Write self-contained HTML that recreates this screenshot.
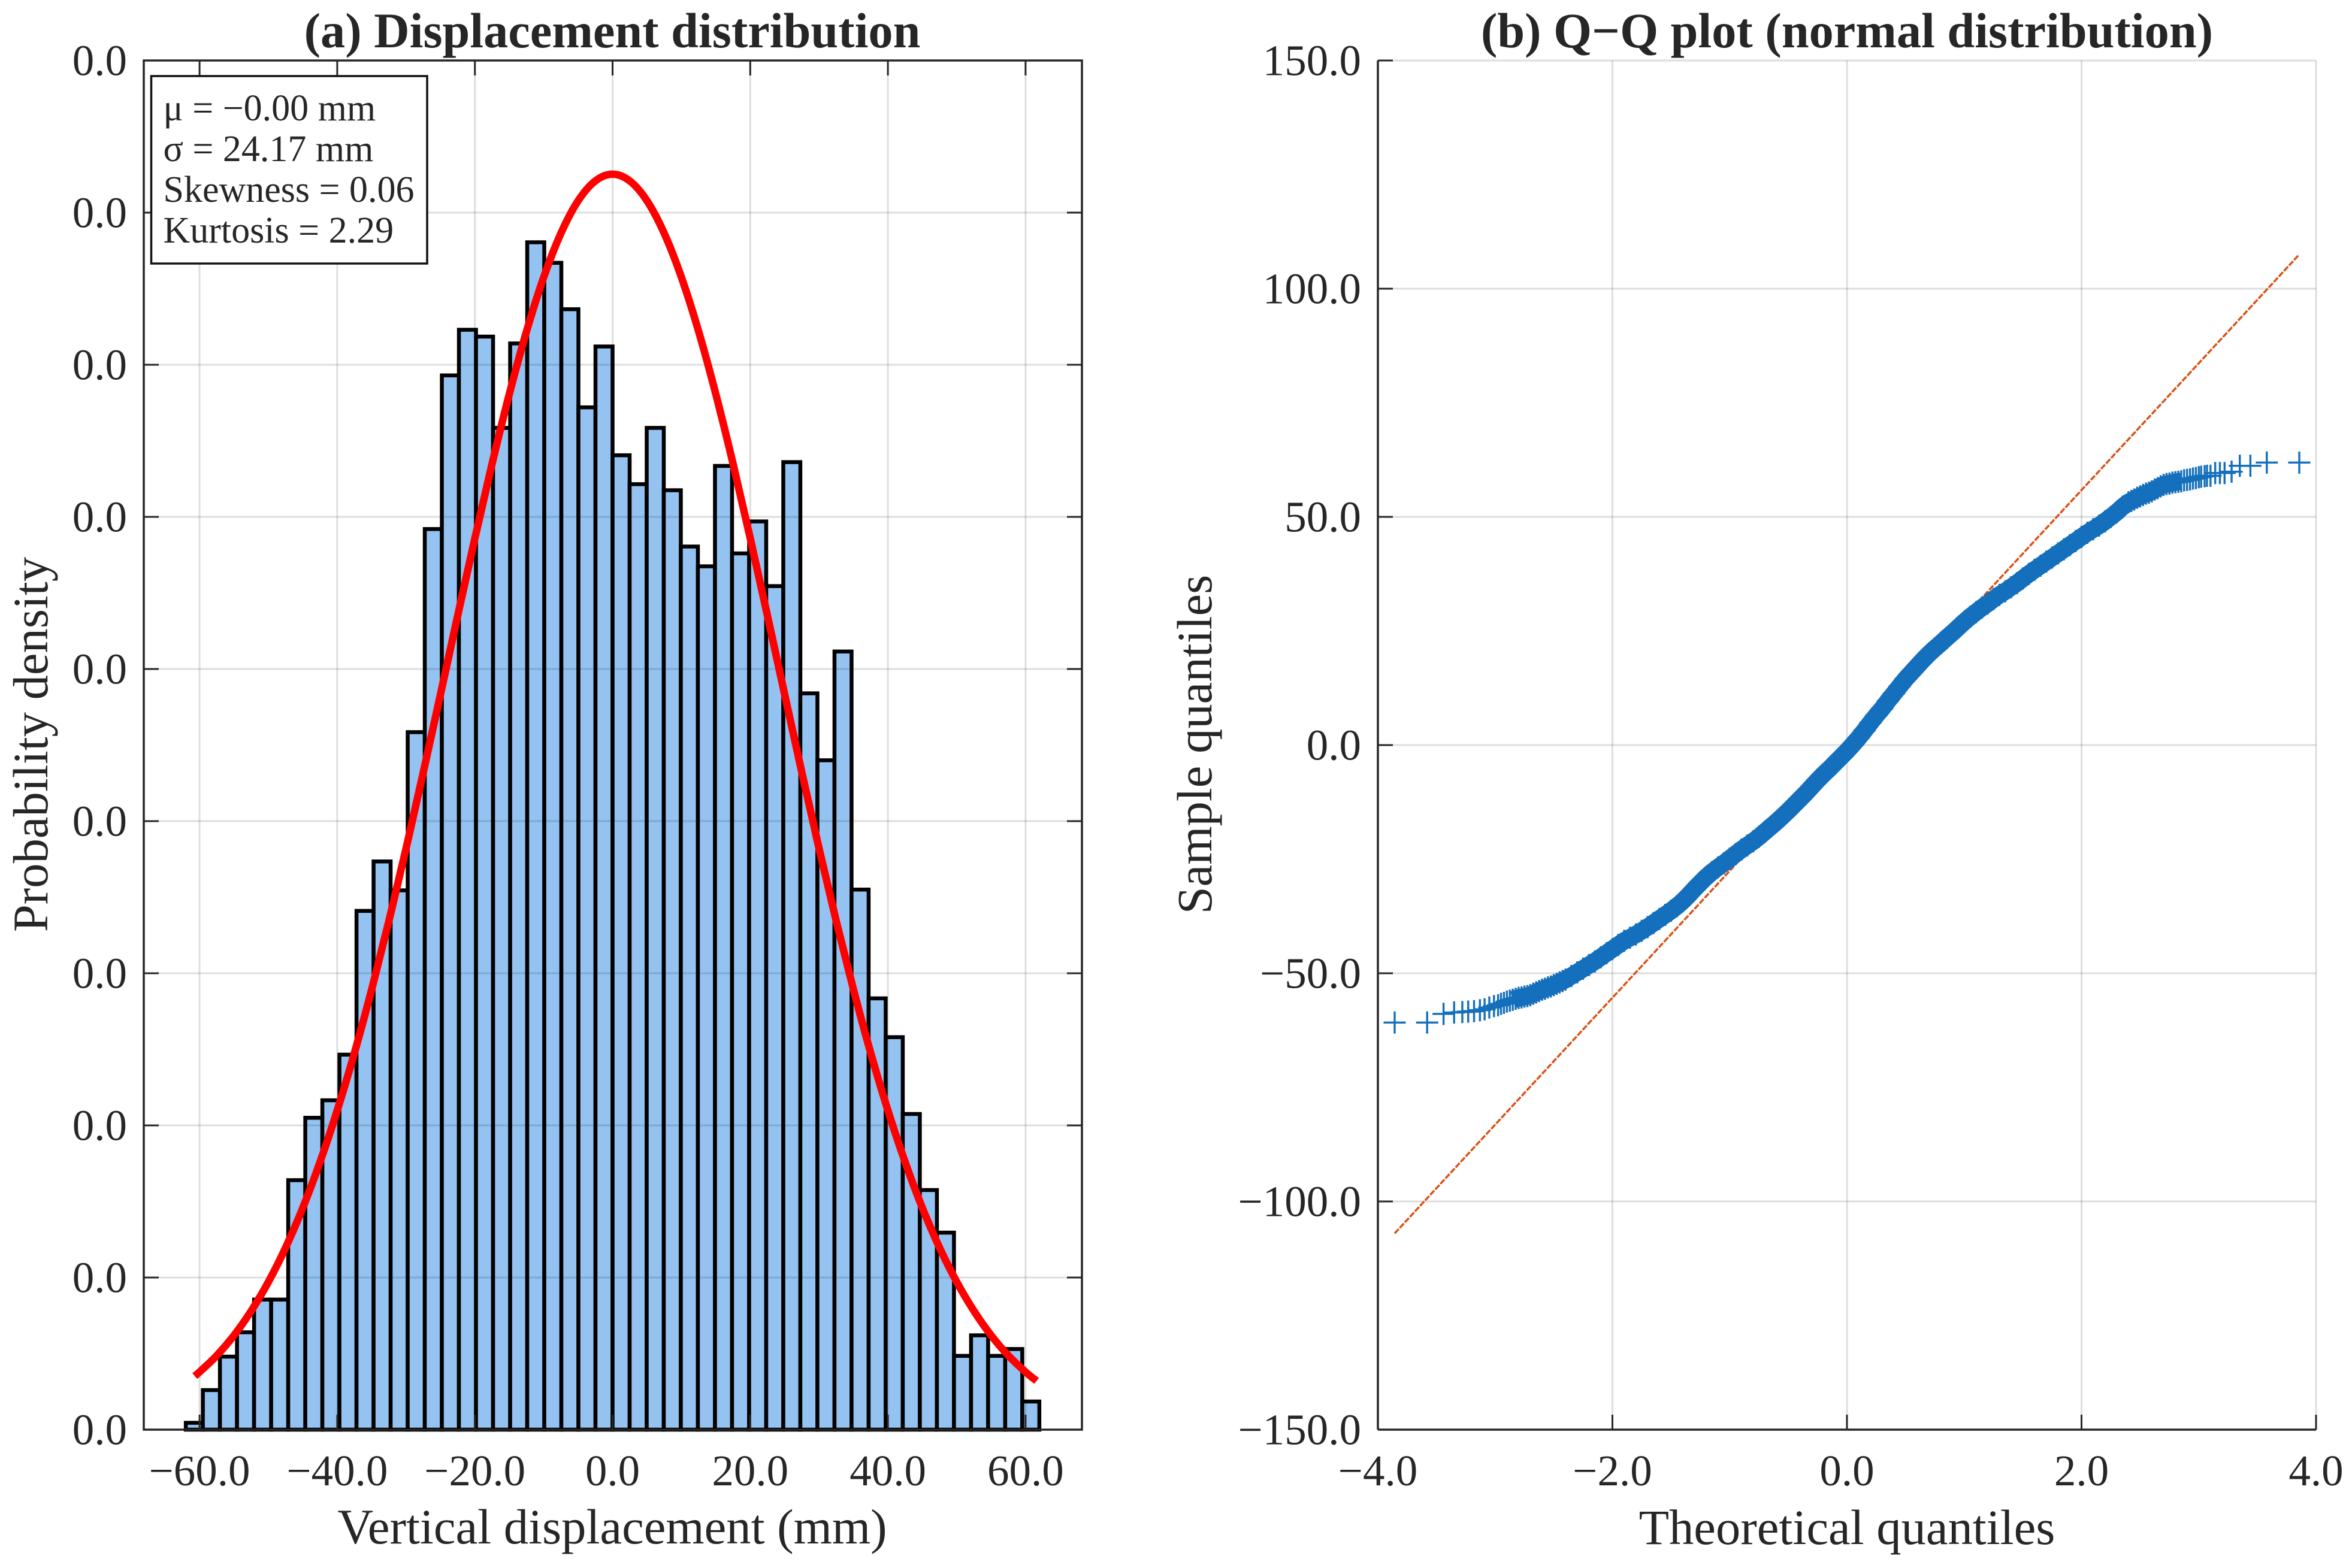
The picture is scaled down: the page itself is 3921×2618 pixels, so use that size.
<!DOCTYPE html>
<html lang="en">
<head>
<meta charset="utf-8">
<title>Displacement distribution and Q-Q plot</title>
<style>
  html, body { margin: 0; padding: 0; background: #ffffff; }
  #figure { display: block; width: 3921px; height: 2618px; }
  text { font-family: "Liberation Serif", "DejaVu Serif", serif; fill: #262626; }
</style>
</head>
<body>
<svg id="figure" xmlns="http://www.w3.org/2000/svg" width="3921" height="2618" viewBox="0 0 3921 2618">
  <rect x="0" y="0" width="3921" height="2618" fill="#ffffff"/>
  <g id="panel-a"></g>
  <g id="panel-b"></g>

  <text x="1022" y="79" font-size="82.3" font-weight="700" text-anchor="middle">(a) Displacement distribution</text>
  <text x="1022" y="2577" font-size="82.6" text-anchor="middle">Vertical displacement (mm)</text>
  <text transform="translate(79 1243) rotate(-90)" font-size="82.6" text-anchor="middle">Probability density</text>

  <text x="3083" y="79" font-size="82.3" font-weight="700" text-anchor="middle">(b) Q−Q plot (normal distribution)</text>
  <text x="3083" y="2578" font-size="82.6" text-anchor="middle">Theoretical quantiles</text>
  <text transform="translate(2022 1243) rotate(-90)" font-size="82.6" text-anchor="middle">Sample quantiles</text>

  <g>
    <rect x="252.5" y="127" width="460.5" height="313" fill="#ffffff" stroke="#111111" stroke-width="3.5"/>
    <text x="272.5" y="201" font-size="62">μ = −0.00 mm</text>
    <text x="272.5" y="269" font-size="62">σ = 24.17 mm</text>
    <text x="272.5" y="337" font-size="62">Skewness = 0.06</text>
    <text x="272.5" y="405" font-size="62">Kurtosis = 2.29</text>
  </g>
</svg>

<script>
// ---------- Panel (a) data ----------
const histXTicks = [-60, -40, -20, 0, 20, 40, 60];
const histYTicks = [0, 0.002, 0.004, 0.006, 0.008, 0.010, 0.012, 0.014, 0.016, 0.018];
const histBinStart = -62;
const histBinWidth = 2.48;
const histDensity = [
  0.00009, 0.00052, 0.00096, 0.00128, 0.00171, 0.00171, 0.00328, 0.00410, 0.00433, 0.00493,
  0.00682, 0.00747, 0.00709, 0.00917, 0.01184, 0.01386, 0.01446, 0.01437, 0.01317, 0.01428,
  0.01561, 0.01534, 0.01473, 0.01344, 0.01424, 0.01281, 0.01243, 0.01317, 0.01235, 0.01161,
  0.01135, 0.01267, 0.01152, 0.01194, 0.01109, 0.01272, 0.00968, 0.00880, 0.01023, 0.00710,
  0.00567, 0.00516, 0.00415, 0.00315, 0.00259, 0.00097, 0.00124, 0.00097, 0.00106, 0.00037
];
const fitX = [-60.7, -60, -57.5, -55, -52.5, -50, -47.5, -45, -42.5, -40, -37.5, -35, -32.5, -30, -27.5, -25, -22.5, -20, -17.5, -15, -12.5, -10, -7.5, -5, -2.5, 0, 2.5, 5, 7.5, 10, 12.5, 15, 17.5, 20, 22.5, 25, 27.5, 30, 32.5, 35, 37.5, 40, 42.5, 45, 47.5, 50, 52.5, 55, 57.5, 60, 61.6];
const fitDensity = [0.000705, 0.000758, 0.000974, 0.001239, 0.001560, 0.001942, 0.002393, 0.002917, 0.003518, 0.004197, 0.004953, 0.005785, 0.006684, 0.007640, 0.008640, 0.009667, 0.010701, 0.011720, 0.012700, 0.013614, 0.014439, 0.015151, 0.015729, 0.016156, 0.016417, 0.016505, 0.016417, 0.016156, 0.015729, 0.015151, 0.014439, 0.013614, 0.012700, 0.011720, 0.010701, 0.009667, 0.008640, 0.007640, 0.006684, 0.005785, 0.004953, 0.004197, 0.003518, 0.002917, 0.002393, 0.001942, 0.001560, 0.001239, 0.000974, 0.000758, 0.000641];

// ---------- Panel (b) data ----------
const qqXTicks = [-4, -2, 0, 2, 4];
const qqYTicks = [-150, -100, -50, 0, 50, 100, 150];
const refLineX = [-3.857, 3.857];
const refLineY = [-107, 107.5];
const qqTheoretical = [
  -3.857, -3.58, -3.44, -3.35, -3.28, -3.23, -3.18, -3.13, -3.09, -3.05, -3.01,
  -2.975, -2.95, -2.925, -2.9, -2.875, -2.85, -2.825, -2.8, -2.775, -2.75, -2.725, -2.7, -2.675, -2.65, -2.625, -2.6, -2.575, -2.55, -2.525, -2.5, -2.475, -2.45, -2.425,
  -2.40, -2.35, -2.30, -2.25, -2.20, -2.15, -2.10, -2.05, -2.00, -1.95, -1.90, -1.85, -1.80, -1.75, -1.70, -1.65, -1.60, -1.55, -1.50, -1.45, -1.40, -1.35, -1.30, -1.25, -1.20, -1.15, -1.10, -1.05, -1.00, -0.95, -0.90, -0.85, -0.80, -0.75, -0.70, -0.65, -0.60, -0.55, -0.50, -0.45, -0.40, -0.35, -0.30, -0.25, -0.20, -0.15, -0.10, -0.05,
  0, 0.05, 0.10, 0.15, 0.20, 0.25, 0.30, 0.35, 0.40, 0.45, 0.50, 0.55, 0.60, 0.65, 0.70, 0.75, 0.80, 0.85, 0.90, 0.95, 1.00, 1.05, 1.10, 1.15, 1.20, 1.25, 1.30, 1.35, 1.40, 1.45, 1.50, 1.55, 1.60, 1.65, 1.70, 1.75, 1.80, 1.85, 1.90, 1.95, 2.00, 2.05, 2.10, 2.15, 2.20, 2.25, 2.30, 2.35, 2.40,
  2.425, 2.45, 2.475, 2.5, 2.525, 2.55, 2.575, 2.6, 2.625, 2.65, 2.675, 2.7, 2.725, 2.75, 2.775, 2.8, 2.825, 2.85, 2.875, 2.9, 2.925, 2.95, 2.975, 3.0,
  3.02, 3.05, 3.07, 3.10, 3.14, 3.18, 3.22, 3.28, 3.35, 3.44, 3.58, 3.857
];
const qqSample = [
  -60.8, -60.8, -58.9, -58.6, -58.5, -58.4, -58.3, -58.1, -57.9, -57.5, -57.2,
  -57, -56.7, -56.5, -56.2, -56, -55.8, -55.6, -55.4, -55.3, -55.1, -55, -54.8, -54.5, -54.2, -53.9, -53.6, -53.4, -53.1, -52.9, -52.6, -52.3, -52, -51.7,
  -51.4, -50.6, -49.8, -49, -48.2, -47.4, -46.5, -45.6, -44.7, -43.8, -42.9, -42.2, -41.5, -40.7, -39.9, -39, -38.1, -37.2, -36.3, -35.3, -34.2, -32.9, -31.5, -30.2, -28.9, -27.8, -26.8, -25.9, -24.9, -23.9, -22.9, -22, -21.1, -20.1, -19, -17.9, -16.8, -15.6, -14.4, -13.1, -11.8, -10.5, -9.1, -7.7, -6.4, -5.2, -3.9, -2.6,
  -1.3, 0.1, 1.6, 3.2, 4.9, 6.5, 8, 9.7, 11.3, 12.9, 14.5, 15.9, 17.3, 18.7, 20, 21.2, 22.3, 23.5, 24.6, 25.8, 27, 28.1, 29.1, 30.1, 31, 32, 32.9, 33.7, 34.6, 35.5, 36.5, 37.5, 38.4, 39.3, 40.2, 41.1, 42, 42.9, 43.8, 44.7, 45.6, 46.5, 47.3, 48.1, 49, 50, 51, 52.2, 53.2,
  53.5, 53.8, 54.2, 54.5, 54.8, 55.1, 55.3, 55.6, 56, 56.3, 56.7, 57, 57.2, 57.3, 57.5, 57.6, 57.7, 57.8, 58, 58.1, 58.2, 58.4, 58.5, 58.7,
  58.8, 58.9, 59, 59, 59.6, 59.6, 59.6, 59.9, 61.2, 61.2, 61.9, 61.9
];

// ---------- Layout and axis functions ----------
const plotTop = 101;
const plotBottom = 2387;
const aLeft = 240, aRight = 1806;
const bLeft = 2300, bRight = 3866;
const tickLen = 25;
const SVG_NS = 'http://www.w3.org/2000/svg';

const xScaleA = v => 1022.5 + v * 11.49;
const yScaleA = v => plotBottom - (v / 0.018) * (plotBottom - plotTop);
const xScaleB = v => bLeft + ((v + 4) / 8) * (bRight - bLeft);
const yScaleB = v => plotBottom - ((v + 150) / 300) * (plotBottom - plotTop);
const minusSign = s => s.replace('-', '\u2212');

function make(parent, tag, attrs, text) {
  const el = document.createElementNS(SVG_NS, tag);
  for (const k in attrs) el.setAttribute(k, attrs[k]);
  if (text !== undefined) el.textContent = text;
  parent.appendChild(el);
  return el;
}

function smoothPath(pts) {
  let d = 'M' + pts[0][0].toFixed(2) + ' ' + pts[0][1].toFixed(2);
  for (let i = 0; i < pts.length - 1; i++) {
    const p0 = pts[Math.max(i - 1, 0)], p1 = pts[i], p2 = pts[i + 1], p3 = pts[Math.min(i + 2, pts.length - 1)];
    const c1x = p1[0] + (p2[0] - p0[0]) / 6, c1y = p1[1] + (p2[1] - p0[1]) / 6;
    const c2x = p2[0] - (p3[0] - p1[0]) / 6, c2y = p2[1] - (p3[1] - p1[1]) / 6;
    d += 'C' + c1x.toFixed(2) + ' ' + c1y.toFixed(2) + ' ' + c2x.toFixed(2) + ' ' + c2y.toFixed(2) + ' ' + p2[0].toFixed(2) + ' ' + p2[1].toFixed(2);
  }
  return d;
}

const gridStyle = { stroke: '#000000', 'stroke-opacity': 0.13, 'stroke-width': 3, fill: 'none' };
const axisStyle = { stroke: '#262626', 'stroke-width': 3.5, fill: 'none' };

// ---------- Panel (a) ----------
const panelA = document.getElementById('panel-a');

histDensity.forEach((d, i) => {
  const x0 = xScaleA(histBinStart + i * histBinWidth);
  const x1 = xScaleA(histBinStart + (i + 1) * histBinWidth);
  const bar = make(panelA, 'rect', { x: x0, y: yScaleA(d), width: x1 - x0, height: yScaleA(0) - yScaleA(d), fill: '#94c2f1', stroke: '#000000', 'stroke-width': 6.5 });
  
  
});

histXTicks.forEach(v => {
  const x = xScaleA(v);
  const grid = make(panelA, 'line', Object.assign({ x1: x, x2: x, y1: plotTop, y2: plotBottom }, gridStyle));
  
  
});
histYTicks.forEach(v => {
  const y = yScaleA(v);
  const grid = make(panelA, 'line', Object.assign({ x1: aLeft, x2: aRight, y1: y, y2: y }, gridStyle));
  
  
});

const boxA = make(panelA, 'rect', Object.assign({ x: aLeft, y: plotTop, width: aRight - aLeft, height: plotBottom - plotTop }, axisStyle));



histXTicks.forEach(v => {
  const x = xScaleA(v);
  const tickBottom = make(panelA, 'line', Object.assign({ x1: x, x2: x, y1: plotBottom, y2: plotBottom - tickLen }, axisStyle, { 'stroke-width': 3 }));
  
  
  const tickTop = make(panelA, 'line', Object.assign({ x1: x, x2: x, y1: plotTop, y2: plotTop + tickLen }, axisStyle, { 'stroke-width': 3 }));
  
  
  const label = make(panelA, 'text', { x: x, y: 2480, 'font-size': 73, 'text-anchor': 'middle' }, minusSign(v.toFixed(1)));
  
  
});
histYTicks.forEach(v => {
  const y = yScaleA(v);
  const tickLeft = make(panelA, 'line', Object.assign({ x1: aLeft, x2: aLeft + tickLen, y1: y, y2: y }, axisStyle, { 'stroke-width': 3 }));
  
  
  const tickRight = make(panelA, 'line', Object.assign({ x1: aRight, x2: aRight - tickLen, y1: y, y2: y }, axisStyle, { 'stroke-width': 3 }));
  
  
  const label = make(panelA, 'text', { x: 212, y: y + 24.5, 'font-size': 73, 'text-anchor': 'end' }, v.toFixed(1));
  
  
});

const fitPts = fitX.map((x, i) => [xScaleA(x), yScaleA(fitDensity[i])]);
const fitCurve = make(panelA, 'path', { d: smoothPath(fitPts), fill: 'none', stroke: '#ff0000', 'stroke-width': 12.5, 'stroke-linejoin': 'round' });



// ---------- Panel (b) ----------
const panelB = document.getElementById('panel-b');

qqXTicks.forEach(v => {
  const x = xScaleB(v);
  const grid = make(panelB, 'line', Object.assign({ x1: x, x2: x, y1: plotTop, y2: plotBottom }, gridStyle));
  
  
});
qqYTicks.forEach(v => {
  const y = yScaleB(v);
  const grid = make(panelB, 'line', Object.assign({ x1: bLeft, x2: bRight, y1: y, y2: y }, gridStyle));
  
  
});

const axisLeftB = make(panelB, 'line', Object.assign({ x1: bLeft, x2: bLeft, y1: plotTop, y2: plotBottom }, axisStyle));


const axisBottomB = make(panelB, 'line', Object.assign({ x1: bLeft, x2: bRight, y1: plotBottom, y2: plotBottom }, axisStyle));



qqXTicks.forEach(v => {
  const x = xScaleB(v);
  const tick = make(panelB, 'line', Object.assign({ x1: x, x2: x, y1: plotBottom, y2: plotBottom - tickLen }, axisStyle, { 'stroke-width': 3 }));
  
  
  const label = make(panelB, 'text', { x: x, y: 2480, 'font-size': 73, 'text-anchor': 'middle' }, minusSign(v.toFixed(1)));
  
  
});
qqYTicks.forEach(v => {
  const y = yScaleB(v);
  const tick = make(panelB, 'line', Object.assign({ x1: bLeft, x2: bLeft + tickLen, y1: y, y2: y }, axisStyle, { 'stroke-width': 3 }));
  
  
  const label = make(panelB, 'text', { x: 2272, y: y + 24.5, 'font-size': 73, 'text-anchor': 'end' }, minusSign(v.toFixed(1)));
  
  
});

const refLine = make(panelB, 'line', { x1: xScaleB(refLineX[0]), y1: yScaleB(refLineY[0]), x2: xScaleB(refLineX[1]), y2: yScaleB(refLineY[1]), stroke: '#d95319', 'stroke-width': 3.5, 'stroke-dasharray': '10 2.5' });



const bandPts = [];
qqTheoretical.forEach((t, i) => {
  if (Math.abs(t) <= 2.85) bandPts.push(xScaleB(t).toFixed(1) + ',' + yScaleB(qqSample[i]).toFixed(1));
});
const band = make(panelB, 'polyline', { points: bandPts.join(' '), fill: 'none', stroke: '#146fbc', 'stroke-width': 29, 'stroke-linejoin': 'round' });



const markerRadius = 18.5;
qqTheoretical.forEach((t, i) => {
  const x = xScaleB(t), y = yScaleB(qqSample[i]);
  const marker = make(panelB, 'path', { d: 'M' + (x - markerRadius) + ' ' + y + 'H' + (x + markerRadius) + 'M' + x + ' ' + (y - markerRadius) + 'V' + (y + markerRadius), fill: 'none', stroke: '#146fbc', 'stroke-width': 3.4 });
  
  
});
</script>
</body>
</html>
